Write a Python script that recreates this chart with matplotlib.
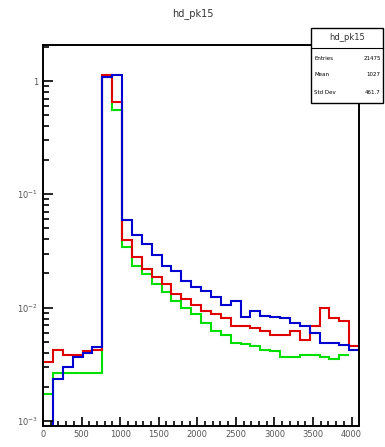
import numpy as np
import matplotlib
matplotlib.use('Agg')
import matplotlib.pyplot as plt
from matplotlib.ticker import FixedLocator, MultipleLocator, FixedFormatter

# 32 bins of width 128 over 0..4096
edges = np.arange(0, 4096 + 1, 128)

red = [3.28e-3, 4.25e-3, 3.84e-3, 3.84e-3, 4.16e-3, 4.25e-3, 1.13, 0.652,
       0.0392, 0.0279, 0.0220, 0.0185, 0.0160, 0.0132, 0.0119, 0.01063,
       0.00940, 0.00879, 0.00811, 0.00693, 0.00684, 0.00656, 0.00626, 0.00573,
       0.00573, 0.00626, 0.00518, 0.00684, 0.00986, 0.00804, 0.00767, 0.00461]
# last bin of green is empty
green = [1.74e-3, 2.62e-3, 2.62e-3, 2.62e-3, 2.62e-3, 2.62e-3, 1.08, 0.560,
         0.0342, 0.0235, 0.0199, 0.0162, 0.0137, 0.01137, 0.00986, 0.00879,
         0.00726, 0.00626, 0.00577, 0.00483, 0.00477, 0.00461, 0.00423, 0.00416,
         0.00368, 0.00368, 0.00384, 0.00384, 0.00368, 0.00352, 0.00384]
blue = [9.0e-4, 2.35e-3, 3.01e-3, 3.63e-3, 3.94e-3, 4.52e-3, 1.085, 1.12,
        0.0589, 0.0434, 0.0361, 0.0289, 0.0235, 0.0210, 0.0171, 0.0151,
        0.01386, 0.01251, 0.01063, 0.01137, 0.00832, 0.00940, 0.00850, 0.00832,
        0.00811, 0.00726, 0.00693, 0.00593, 0.00483, 0.00483, 0.00468, 0.00423]

stats = [('Entries', '21475'), ('Mean', '1027'), ('Std Dev', '461.7')]

fig = plt.figure(figsize=(3.85, 4.47), dpi=100)
ax = fig.add_axes([43/385, 1 - 426/447, (359 - 43)/385, (426 - 45)/447])

for vals, c in [(green, '#00e000'), (red, '#e00000'), (blue, '#0000d0')]:
    ax.stairs(vals, edges[:len(vals) + 1], color=c, lw=1.5, baseline=None)

ax.set_yscale('log')
ax.set_xlim(0, 4096)
ax.set_ylim(9.0e-4, 2.08)

for s in ax.spines.values():
    s.set_linewidth(1.4)

ax.xaxis.set_major_locator(MultipleLocator(500))
ax.xaxis.set_minor_locator(MultipleLocator(100))
ax.yaxis.set_major_locator(FixedLocator([1e-3, 1e-2, 1e-1, 1]))
ax.yaxis.set_major_formatter(FixedFormatter([r'$10^{-3}$', r'$10^{-2}$', r'$10^{-1}$', '1']))
minors = [m * 10.0**e for e in (-3, -2, -1, 0) for m in range(2, 10)]
ax.yaxis.set_minor_locator(FixedLocator(minors))
ax.yaxis.set_minor_formatter(FixedFormatter([]))

ax.tick_params(axis='both', which='both', direction='in', top=False, right=False,
               labelsize=6, labelcolor='#555555', width=1.2)
ax.tick_params(axis='y', which='major', length=7)
ax.tick_params(axis='y', which='minor', length=4.5)
ax.tick_params(axis='x', which='major', length=6.5)
ax.tick_params(axis='x', which='minor', length=3.5)
ax.tick_params(axis='x', pad=3)

fig.text(193/385, 1 - 14/447, 'hd_pk15', ha='center', va='center', fontsize=7, color='#333333')

# stats box
bx0, bx1, by0, by1 = 311/385, 383/385, 1 - 103/447, 1 - 28/447
box = plt.Rectangle((bx0, by0), bx1 - bx0, by1 - by0, transform=fig.transFigure,
                    facecolor='white', edgecolor='black', lw=1.0, zorder=5)
fig.add_artist(box)
ysep = 1 - 48/447
fig.add_artist(plt.Line2D([bx0, bx1], [ysep, ysep], transform=fig.transFigure,
                          color='black', lw=0.8, zorder=6))
fig.text((bx0 + bx1) / 2, 1 - 38/447, 'hd_pk15', ha='center', va='center',
         fontsize=6, color='#333333', zorder=7)
for i, (k, v) in enumerate(stats):
    yy = 1 - (58 + 17 * i) / 447
    fig.text(bx0 + 0.008, yy, k, ha='left', va='center', fontsize=4, zorder=7)
    fig.text(bx1 - 0.006, yy, v, ha='right', va='center', fontsize=4, zorder=7)

fig.savefig('out.png', dpi=100)
